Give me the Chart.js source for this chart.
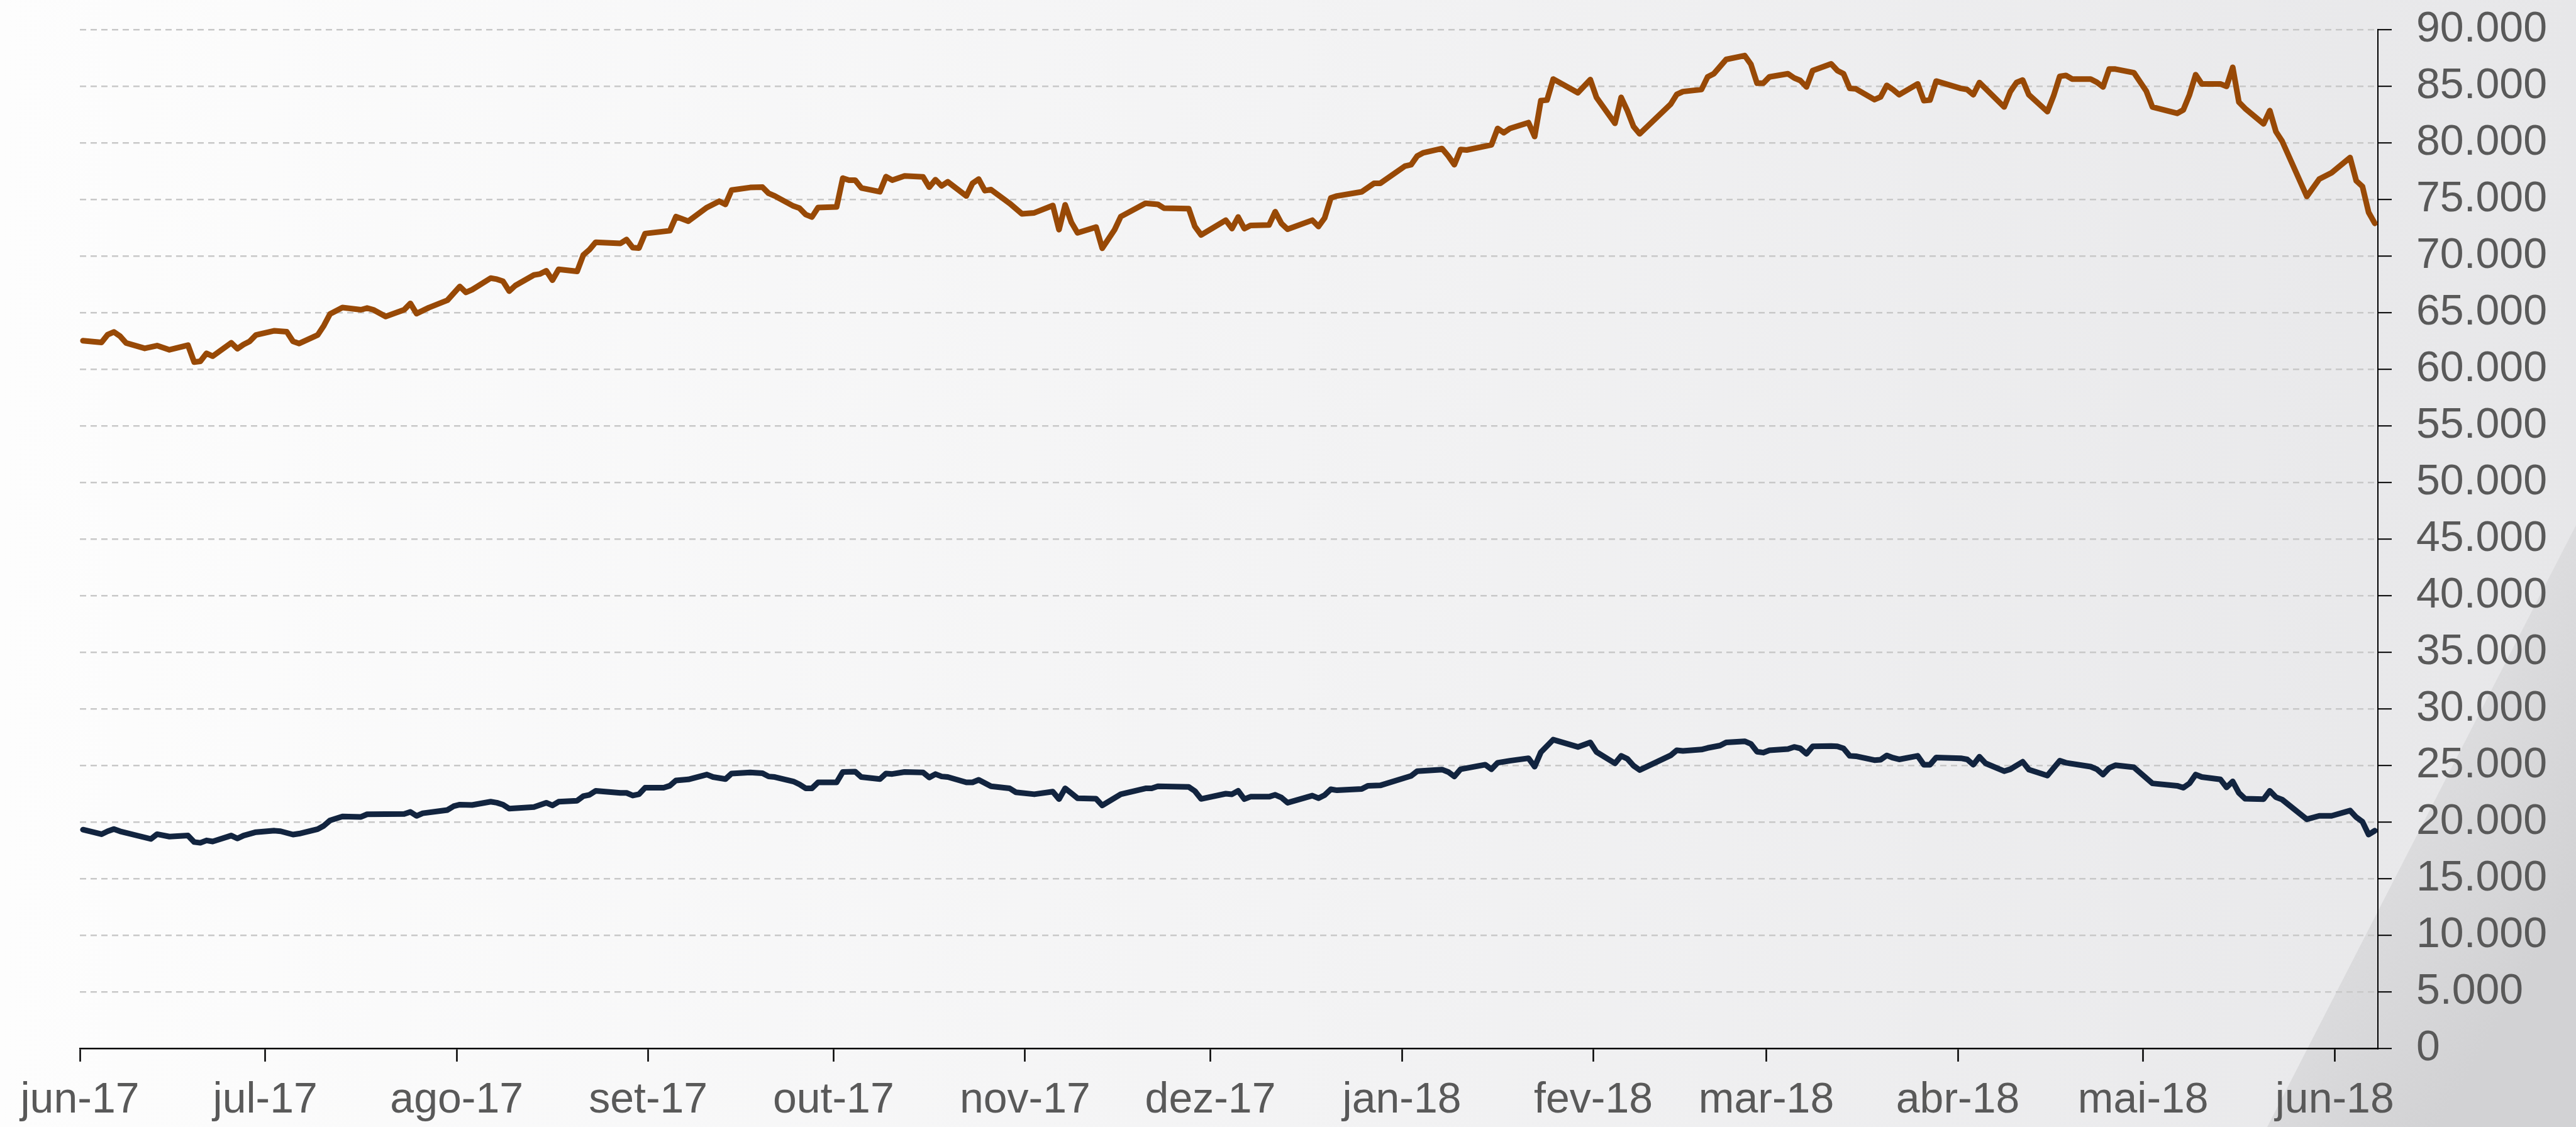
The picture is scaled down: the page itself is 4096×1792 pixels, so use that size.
<!DOCTYPE html>
<html lang="pt-BR">
<head>
<meta charset="utf-8">
<title>Índice em R$ e US$</title>
<script src="https://cdn.jsdelivr.net/npm/chart.js@4.4.1/dist/chart.umd.min.js"></script>
<style>
  html, body { margin: 0; padding: 0; background: #f4f4f5; }
  body { width: 4096px; height: 1792px; overflow: hidden; }
  #chart { display: block; }
</style>
</head>
<body>
<canvas id="chart" width="4096" height="1792"></canvas>
<script>
// x values are days counted from 1 Jun 2017
const monthStarts = [0, 30, 61, 92, 122, 153, 183, 214, 245, 273, 304, 334, 365];
const monthLabels = ['jun-17', 'jul-17', 'ago-17', 'set-17', 'out-17', 'nov-17', 'dez-17',
  'jan-18', 'fev-18', 'mar-18', 'abr-18', 'mai-18', 'jun-18'];
const yTicks = [0, 5000, 10000, 15000, 20000, 25000, 30000, 35000, 40000, 45000,
  50000, 55000, 60000, 65000, 70000, 75000, 80000, 85000, 90000];

// upper series (orange)
const orangeDays = [
  1, 4, 5, 6, 7, 8, 11, 13, 15, 18, 19, 20, 21, 22, 25, 26, 27, 28, 29,
  32, 34, 35, 36, 39, 40, 41, 43, 46, 47, 48, 50, 53, 54, 55, 57, 60,
  62, 63, 64, 67, 68, 69, 70, 71, 74, 75, 76, 77, 78, 81, 82, 83, 84, 88, 89, 90, 91,
  92, 96, 97, 99, 102, 104, 105, 106, 109, 111, 112, 113, 116, 117, 118, 119, 120,
  123, 124, 125, 126, 127, 130, 131, 132, 134, 137, 138, 139, 140, 141, 144, 145, 146, 147, 148, 151,
  153, 155, 158, 159, 160, 161, 162, 165, 166, 168, 169, 173, 175, 176, 180, 181, 182,
  186, 187, 188, 189, 190, 193, 194, 195, 196, 200, 201, 202, 203, 204, 208, 210, 211,
  215, 216, 217, 218, 221, 222, 223, 224, 225, 229, 230, 231, 232, 235, 236, 237, 238, 239, 243,
  245, 246, 249, 250, 251, 252, 253, 258, 259, 260, 263, 264, 265, 267, 270, 271, 272,
  273, 274, 277, 278, 279, 280, 281, 284, 285, 286, 287, 288, 291, 292, 293, 294, 295, 298, 299, 300, 301,
  305, 306, 307, 308, 312, 313, 314, 315, 316, 319, 320, 321, 322, 323, 326, 327, 328, 329, 330, 333,
  335, 336, 340, 341, 342, 343, 344, 347, 348, 349, 350, 351, 354, 355, 356, 357, 361, 363,
  365, 368, 369, 370, 371, 372
];
const orangeValues = [
  62510, 62360, 63050, 63290, 62920, 62310, 61840, 62080, 61710, 62120, 60630, 60690, 61400, 61150, 62330, 61810, 62180, 62460, 63020,
  63390, 63300, 62460, 62270, 63020, 63850, 64880, 65440, 65250, 65400, 65250, 64650, 65250, 65810, 64910, 65440, 66090,
  67300, 66780, 67020, 68040, 67950, 67760, 66890, 67390, 68320, 68410, 68690, 67860, 68820, 68640, 70090, 70560, 71210, 71110, 71450, 70740, 70700,
  71980, 72230, 73480, 73070, 74280, 74840, 74560, 75820, 76050, 76080, 75530, 75300, 74410, 74220, 73660, 73440, 74280,
  74330, 76880, 76700, 76700, 76010, 75670, 77010, 76700, 77070, 76980, 76080, 76740, 76190, 76550, 75300, 76420, 76790, 75770, 75860, 74650,
  73720, 73810, 74460, 72320, 74520, 72970, 72040, 72550, 70680, 72320, 73480, 74650, 74560, 74220, 74180, 72600, 71860,
  73160, 72420, 73440, 72420, 72700, 72730, 73910, 72880, 72360, 73160, 72600, 73350, 75120, 75300, 75670, 76420, 76420,
  77940, 78060, 78840, 79120, 79490, 78840, 78060, 79400, 79360, 79810, 81260, 80890, 81260, 81780, 80550, 83720, 83770, 85630, 84420,
  85580, 84010, 81720, 84010, 82840, 81440, 80790, 83400, 84270, 84520, 84700, 85820, 86100, 87360, 87700, 86940, 85260,
  85260, 85820, 86100, 85730, 85500, 84930, 86380, 86970, 86380, 86100, 84800, 84760, 83810, 84050, 85070, 84700, 84240, 85200, 83720, 83770, 85450,
  84800, 84700, 84240, 85320, 83160, 84520, 85320, 85540, 84240, 82750, 84140, 85870, 85950, 85630, 85630, 85350, 84930, 86510, 86510, 86190,
  84570, 83160, 82600, 82900, 84240, 86010, 85200, 85200, 84980, 86660, 83590, 83030, 81670, 82840, 80980, 80140, 75260, 76790,
  77350, 78690, 76640, 76140, 73850, 72880
];

// lower series (navy)
const navyDays = [
  1, 4, 5, 6, 7, 12, 13, 15, 18, 19, 20, 21, 22, 25, 26, 27, 29,
  32, 33, 35, 36, 39, 40, 41, 43, 46, 47, 53, 54, 55, 56, 60,
  61, 62, 64, 67, 68, 69, 70, 74, 76, 77, 78, 81, 82, 83, 84, 88, 89, 90, 91,
  92, 95, 96, 97, 99, 102, 103, 105, 106, 109, 111, 112, 113, 116, 117, 118, 119, 120,
  123, 124, 126, 127, 130, 131, 132, 134, 137, 138, 139, 140, 141, 144, 145, 146, 148, 151, 152,
  155, 158, 159, 160, 161, 162, 165, 166, 169, 173, 174, 175, 180, 181, 182,
  186, 187, 188, 189, 190, 193, 194, 195, 196, 200, 201, 202, 203, 204, 208, 209, 211,
  215, 216, 217, 221, 222, 223, 224, 228, 229, 230, 232, 235, 236, 237, 239, 243,
  245, 246, 249, 250, 251, 252, 253, 258, 259, 260, 263, 264, 266, 267, 270, 271, 272,
  273, 274, 277, 278, 279, 280, 281, 284, 285, 286, 287, 288, 291, 292, 293, 294, 295, 298, 299, 300, 301,
  305, 306, 307, 308, 309, 312, 313, 315, 316, 319, 321, 322, 326, 327, 328, 329, 330, 333,
  336, 340, 341, 342, 343, 344, 347, 348, 349, 350, 351, 354, 355, 356, 357, 361, 363,
  365, 368, 369, 370, 371, 372
];
const navyValues = [
  19320, 18920, 19180, 19370, 19180, 18500, 18920, 18710, 18800, 18230, 18160, 18370, 18280, 18800, 18540, 18800, 19100,
  19230, 19180, 18890, 18970, 19370, 19670, 20140, 20490, 20450, 20680, 20710, 20890, 20540, 20770, 21060,
  21390, 21530, 21500, 21790, 21700, 21530, 21180, 21320, 21700, 21460, 21790, 21880, 22280, 22400, 22750, 22570, 22570, 22340, 22450,
  23030, 23030, 23200, 23670, 23760, 24190, 23970, 23790, 24280, 24370, 24310, 24020, 23970, 23580, 23320, 22970, 22970, 23500,
  23500, 24420, 24450, 23970, 23790, 24280, 24240, 24420, 24370, 23930, 24230, 24020, 23970, 23500, 23500, 23720, 23150, 22970, 22630,
  22450, 22680, 22020, 22970, 22540, 22100, 22050, 21460, 22450, 22970, 22970, 23150, 23100, 22730, 22040,
  22500, 22450, 22750, 22020, 22230, 22230, 22400, 22160, 21700, 22330, 22100, 22370, 22890, 22800, 22920, 23200, 23230,
  23900, 24070, 24490, 24630, 24420, 24020, 24660, 25060, 24660, 25230, 25410, 25630, 24890, 26160, 27270, 26630,
  27030, 26190, 25180, 25840, 25580, 24970, 24590, 25880, 26330, 26280, 26400, 26540, 26750, 27030, 27130, 26900, 26210,
  26130, 26330, 26450, 26630, 26500, 26020, 26680, 26710, 26680, 26500, 25840, 25810, 25460, 25500, 25880, 25670, 25530, 25840, 25060, 25060, 25700,
  25630, 25530, 25060, 25760, 25180, 24490, 24660, 25320, 24630, 24100, 25410, 25230, 24890, 24660, 24190, 24770, 25010, 24830,
  23410, 23200, 23030, 23410, 24190, 23970, 23760, 23060, 23580, 22570, 22050, 22020, 22750, 22190, 21980, 20240, 20540,
  20540, 21010, 20420, 20020, 18890, 19230
];

const W = 4096, H = 1792;
const plot = { left: 127, top: 47, right: 3781, bottom: 1667 };
const labelFont = { family: '"Liberation Sans", Arial, sans-serif', size: 68 };
const labelColor = '#595959';

// ticks sit half a day after the first day of each month
const toPoints = (days, values) => days.map((d, i) => ({ x: d, y: values[i] }));
const thousands = (v) => String(v).replace(/\B(?=(\d{3})+(?!\d))/g, '.');

const backdrop = {
  id: 'backdrop',
  beforeDraw(chart) {
    const { ctx, width, height } = chart;
    ctx.save();
    const bg = ctx.createLinearGradient(0, 0, width, 0);
    bg.addColorStop(0, '#fdfdfd');
    bg.addColorStop(0.5, '#f3f3f4');
    bg.addColorStop(1, '#e7e7e9');
    ctx.fillStyle = bg;
    ctx.fillRect(0, 0, width, height);

    // shaded fold in the lower right corner
    const corner = ctx.createLinearGradient(3740, 1210, 4096, 1420);
    corner.addColorStop(0, '#e6e6e8');
    corner.addColorStop(0.3, '#dcdcde');
    corner.addColorStop(1, '#d2d2d4');
    ctx.beginPath();
    ctx.moveTo(width, 835);
    ctx.lineTo(3605, height);
    ctx.lineTo(width, height);
    ctx.closePath();
    ctx.fillStyle = corner;
    ctx.fill();
    ctx.restore();
  }
};

new Chart(document.getElementById('chart'), {
  type: 'line',
  data: {
    datasets: [
      {
        label: 'R$',
        data: toPoints(orangeDays, orangeValues),
        borderColor: '#984906',
        borderWidth: 9,
        pointRadius: 0,
        tension: 0,
        borderJoinStyle: 'round',
        borderCapStyle: 'round',
      },
      {
        label: 'US$',
        data: toPoints(navyDays, navyValues),
        borderColor: '#12243f',
        borderWidth: 9,
        pointRadius: 0,
        tension: 0,
        borderJoinStyle: 'round',
        borderCapStyle: 'round',
      },
    ],
  },
  options: {
    responsive: false,
    animation: false,
    devicePixelRatio: 1,
    layout: { padding: { left: plot.left, top: plot.top, right: 0, bottom: 0 } },
    plugins: { legend: { display: false }, tooltip: { enabled: false } },
    scales: {
      x: {
        type: 'linear',
        min: 0.5,
        max: 372.5,
        afterBuildTicks: (scale) => {
          scale.ticks = monthStarts.map((m) => ({ value: m + 0.5 }));
        },
        afterFit: (scale) => { scale.height = H - plot.bottom; },
        ticks: {
          autoSkip: false,
          maxRotation: 0,
          padding: 21,
          color: labelColor,
          font: labelFont,
          callback: (v, i) => monthLabels[i],
        },
        grid: {
          drawOnChartArea: false,
          drawTicks: true,
          tickLength: 21,
          tickColor: '#000',
          tickWidth: 2.5,
        },
        border: { color: '#000', width: 2.5 },
      },
      y: {
        position: 'right',
        min: 0,
        max: 90000,
        afterBuildTicks: (scale) => {
          scale.ticks = yTicks.map((v) => ({ value: v }));
        },
        afterFit: (scale) => { scale.width = W - plot.right; },
        ticks: {
          padding: 6,
          color: labelColor,
          font: labelFont,
          callback: (v) => thousands(v),
        },
        grid: {
          color: (c) => (c.tick && c.tick.value === 0 ? 'rgba(0,0,0,0)' : '#c8c8c8'),
          lineWidth: 2.4,
          // long tick slot keeps the labels away from the axis, only 21px of it is drawn
          tickLength: 55,
          tickColor: '#000',
          tickWidth: 2,
          tickBorderDash: [21, 200],
        },
        border: { color: '#000', width: 2, dash: [10, 7] },
      },
    },
  },
  plugins: [backdrop],
});
</script>
</body>
</html>
